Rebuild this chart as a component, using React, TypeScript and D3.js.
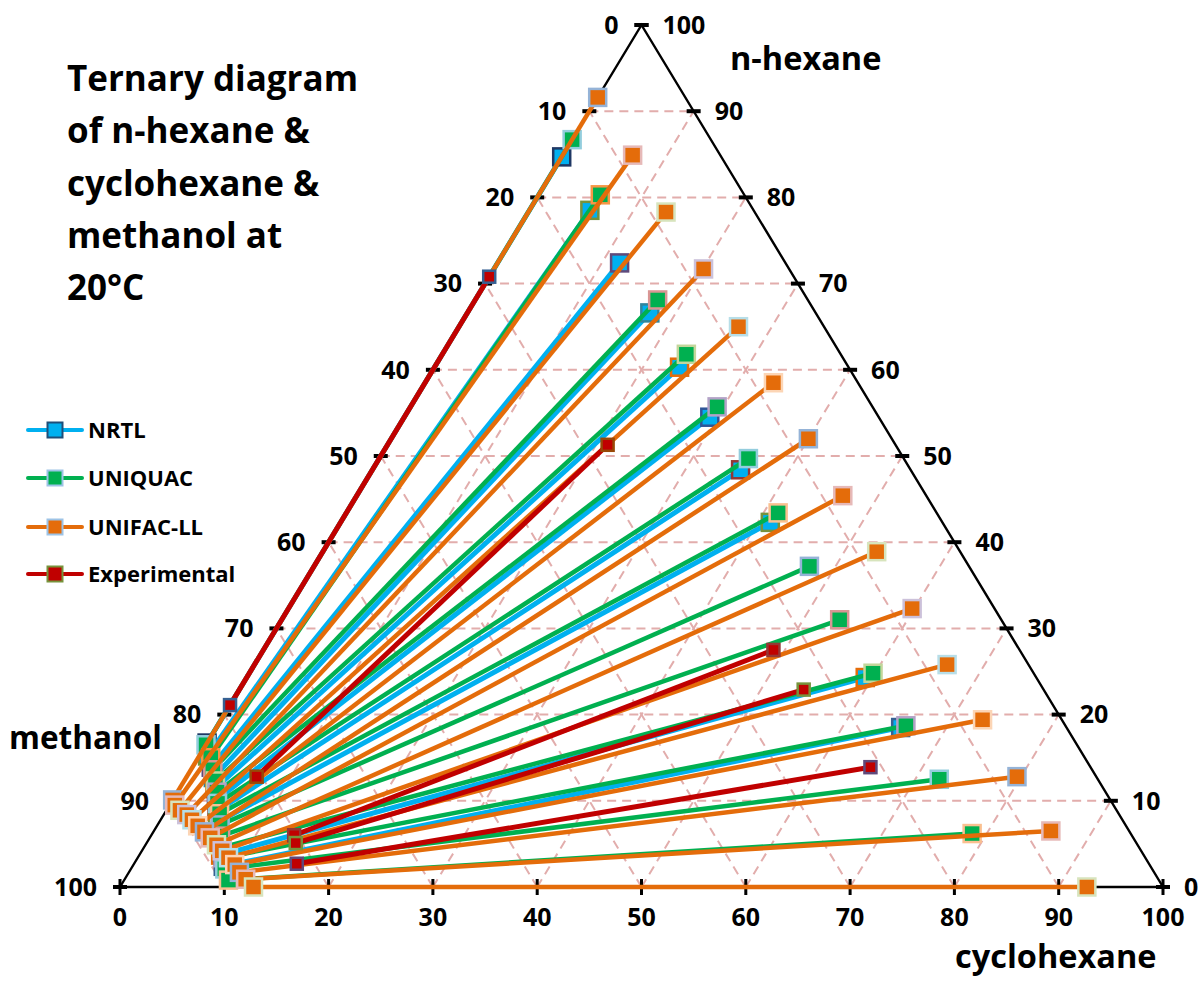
import React from 'react';
import * as d3 from 'd3';

// Tie-line end compositions, mass %: [cyclohexane, n-hexane]; methanol is the balance.
// Hydrocarbon-rich phase (right-hand ends)
const nrtlHydrocarbon = [
  [0, 84.7], [5.8, 78.5], [11.7, 72.4], [17.5, 66.6], [23.5, 60.3],
  [29.3, 54.5], [35.3, 48.4], [41.2, 42.3], [59.3, 24.3], [65.6, 18.5],
];
// Methanol-rich phase (left-hand ends)
const nrtlMethanol = [
  [0, 16.7], [0.8, 15.2], [1.8, 13.9], [2.6, 12.7], [3.4, 11.4],
  [4.2, 10.1], [4.9, 8.8], [5.6, 7.5], [7.8, 3.7], [8.7, 2.4],
];

const uniquacHydrocarbon = [
  [0, 86.7], [5.9, 80.3], [17.5, 68.1], [23.4, 61.8], [29.4, 55.7],
  [35.4, 49.7], [41.4, 43.4], [47.5, 37.2], [53.5, 31.0], [59.8, 24.8],
  [66.0, 18.7], [72.3, 12.5], [78.6, 6.2],
];
const uniquacMethanol = [
  [0, 16.5], [1.2, 15.0], [2.1, 13.6], [3.0, 12.3], [3.8, 11.0],
  [4.5, 9.7], [5.3, 8.5], [6.0, 7.2], [6.7, 5.9], [7.5, 4.6],
  [8.2, 3.4], [9.0, 2.1], [10.0, 0.8],
];

const unifacHydrocarbon = [
  [0, 91.6], [6.7, 84.9], [13.2, 78.3], [20.1, 71.7], [26.8, 65.0],
  [33.4, 58.5], [40.0, 52.0], [46.6, 45.4], [53.1, 38.9], [59.8, 32.3],
  [66.4, 25.8], [73.0, 19.4], [79.6, 12.8], [86.0, 6.5], [92.7, 0],
];
const unifacMethanol = [
  [0, 10.1], [0.5, 9.5], [1.3, 8.9], [2.2, 8.4], [3.0, 7.8],
  [3.9, 7.1], [4.9, 6.4], [5.8, 5.7], [6.8, 4.9], [7.7, 4.2],
  [8.7, 3.4], [9.7, 2.6], [10.6, 1.7], [11.6, 0.9], [12.8, 0],
];

const expHydrocarbon = [
  [0, 70.8], [21.1, 51.3], [48.9, 27.5], [54.1, 22.9], [65.0, 13.9],
];
const expMethanol = [
  [0, 21.1], [6.7, 12.8], [13.7, 6.0], [14.3, 5.1], [15.6, 2.7],
];

const axisTicks = d3.range(0, 101, 10);
const gridLevels = d3.range(10, 100, 10);
const titleLines = ['Ternary diagram', 'of n-hexane &', 'cyclohexane &', 'methanol at', '20°C'];

// Marker outline colours, one per tie line
const NRTL_EDGES = ['#1F3864', '#76923C', '#604A7B', '#31859C', '#E46C0A', '#2E5597', '#953735', '#76923C', '#E46C0A', '#376092'];
const UNIQUAC_EDGES = ['#93CDDD', '#F79646', '#D99694', '#C3D69B', '#B3A2C7', '#93CDDD', '#FAC090', '#95B3D7', '#D99694', '#C3D69B', '#B3A2C7', '#93CDDD', '#FAC090'];
const UNIFAC_EDGE_CYCLE = ['#95B3D7', '#E6B9B8', '#D7E4BD', '#CCC1DA', '#B7DEE8', '#FCD5B5'];
const EXP_EDGES = ['#366092', '#984807', '#953735', '#77933C', '#5F497A'];

const FONT = '"Open Sans", "Noto Sans", sans-serif';

const W = 1204;
const H = 983;

const xs = d3.scaleLinear().domain([0, 100]).range([120, 1163]);
const ys = d3.scaleLinear().domain([0, 100]).range([887, 25]);
const px = (c: number, h: number) => xs(c + h / 2);
const py = (h: number) => ys(h);

const series = [
  { name: 'NRTL', color: '#00B0F0', width: 5, size: 17, hc: nrtlHydrocarbon, me: nrtlMethanol, edge: (i: number) => NRTL_EDGES[i % NRTL_EDGES.length], legendEdge: '#1F4E79' },
  { name: 'UNIQUAC', color: '#00B050', width: 4.5, size: 17, hc: uniquacHydrocarbon, me: uniquacMethanol, edge: (i: number) => UNIQUAC_EDGES[i % UNIQUAC_EDGES.length], legendEdge: '#9DC3E6' },
  { name: 'UNIFAC-LL', color: '#E46C0A', width: 4.5, size: 17, hc: unifacHydrocarbon, me: unifacMethanol, edge: (i: number) => UNIFAC_EDGE_CYCLE[i % UNIFAC_EDGE_CYCLE.length], legendEdge: '#9DC3E6' },
  { name: 'Experimental', color: '#C00000', width: 5, size: 12, hc: expHydrocarbon, me: expMethanol, edge: (i: number) => EXP_EDGES[i % EXP_EDGES.length], legendEdge: '#77933C' },
];

const line = d3.line<number[]>().x((d) => px(d[0], d[1])).y((d) => py(d[1]));

export default function App() {
  const grid: string[] = [];
  gridLevels.forEach((v) => {
    // constant n-hexane
    grid.push(line([[0, v], [100 - v, v]]) as string);
    // constant cyclohexane
    grid.push(line([[v, 0], [v, 100 - v]]) as string);
    // constant methanol
    grid.push(line([[100 - v, 0], [0, 100 - v]]) as string);
  });

  const triangle = line([[0, 0], [100, 0], [0, 100], [0, 0]]) as string;

  return (
    <svg
      width={W}
      height={H}
      style={{ position: 'fixed', left: 0, top: 0, background: '#fff' }}
      fontFamily={FONT}
    >
      <rect width={W} height={H} fill="#fff" />

      {/* dashed composition grid */}
      <g stroke="#E2ADAC" strokeWidth={2} strokeDasharray="9,6" fill="none">
        {grid.map((d, i) => (
          <path key={i} d={d} />
        ))}
      </g>

      {/* triangle frame */}
      <path d={triangle} fill="none" stroke="#000" strokeWidth={2.4} strokeLinejoin="miter" />

      {/* tick dashes */}
      <g fill="#000">
        {axisTicks.map((h) => (
          <rect key={'l' + h} x={px(0, h) - 7} y={py(h) - 2} width={14} height={4} />
        ))}
        {axisTicks.map((h) => (
          <rect key={'r' + h} x={px(100 - h, h) - 7} y={py(h) - 2} width={14} height={4} />
        ))}
        {axisTicks.map((c) => (
          <rect key={'b' + c} x={xs(c) - 1.5} y={py(0) - 8} width={3} height={16} />
        ))}
      </g>

      {/* tick labels */}
      <g fontWeight="bold" fontSize={25} fill="#000">
        {axisTicks.map((h) => (
          <text key={'lt' + h} x={px(0, h) - 23} y={py(h)} dy="0.35em" textAnchor="end">
            {100 - h}
          </text>
        ))}
        {axisTicks.map((h) => (
          <text key={'rt' + h} x={px(100 - h, h) + 21} y={py(h)} dy="0.35em" textAnchor="start">
            {h}
          </text>
        ))}
        {axisTicks.map((c) => (
          <text key={'bt' + c} x={xs(c)} y={917} dy="0.35em" textAnchor="middle">
            {c}
          </text>
        ))}
      </g>

      {/* tie lines */}
      {series.map((s) => (
        <g key={s.name}>
          {s.hc.map((end, i) => {
            const start = s.me[i];
            return (
              <g key={i}>
                <path d={line([start, end]) as string} stroke={s.color} strokeWidth={s.width} fill="none" />
                {[start, end].map((p, k) => (
                  <rect
                    key={k}
                    x={px(p[0], p[1]) - s.size / 2}
                    y={py(p[1]) - s.size / 2}
                    width={s.size}
                    height={s.size}
                    fill={s.color}
                    stroke={s.edge(i)}
                    strokeWidth={2.5}
                  />
                ))}
              </g>
            );
          })}
        </g>
      ))}

      {/* axis titles */}
      <g fontWeight="bold" fontSize={32.5} fill="#000">
        <text x={730} y={70}>n-hexane</text>
        <text x={9} y={749} fontSize={31.5}>methanol</text>
        <text x={955} y={968}>cyclohexane</text>
      </g>

      {/* title */}
      <g fontWeight="bold" fontSize={35} fill="#000">
        {titleLines.map((t, i) => (
          <text key={i} x={67} y={91 + i * 52.3}>
            {t}
          </text>
        ))}
      </g>

      {/* legend */}
      <g>
        {series.map((s, i) => {
          const ly = [430, 478, 527, 574][i];
          return (
            <g key={s.name}>
              <line x1={28} x2={82} y1={ly} y2={ly} stroke={s.color} strokeWidth={4} strokeLinecap="round" />
              <rect x={55 - 7.5} y={ly - 7.5} width={15} height={15} fill={s.color} stroke={s.legendEdge} strokeWidth={2} />
              <text x={88} y={ly} dy="0.35em" fontWeight="bold" fontSize={22} fill="#000">
                {s.name}
              </text>
            </g>
          );
        })}
      </g>
    </svg>
  );
}
